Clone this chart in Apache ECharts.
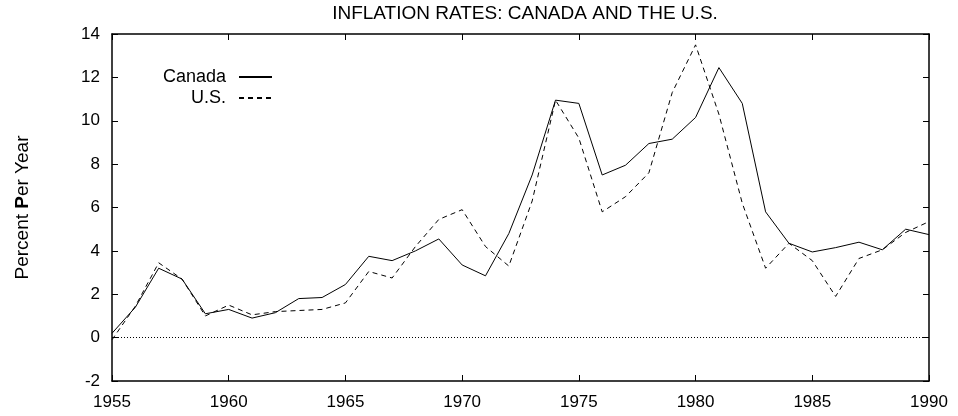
<!DOCTYPE html>
<html>
<head>
<meta charset="utf-8">
<script src="https://cdn.jsdelivr.net/npm/echarts@6/dist/echarts.min.js"></script>
<style>
html,body{margin:0;padding:0;background:#fff;}
#chart{width:958px;height:416px;}
</style>
</head>
<body>
<div id="chart"></div>
<script>
const years = [1955,1956,1957,1958,1959,1960,1961,1962,1963,1964,1965,1966,1967,1968,1969,1970,1971,1972,1973,1974,1975,1976,1977,1978,1979,1980,1981,1982,1983,1984,1985,1986,1987,1988,1989,1990];
const canada = [0.2,1.4,3.2,2.7,1.1,1.3,0.9,1.15,1.8,1.85,2.45,3.75,3.55,4.0,4.55,3.35,2.85,4.8,7.5,10.95,10.8,7.5,7.95,8.95,9.15,10.15,12.45,10.8,5.8,4.35,3.95,4.15,4.4,4.05,5.0,4.75];
const us = [-0.1,1.45,3.45,2.7,1.0,1.5,1.05,1.2,1.25,1.3,1.6,3.05,2.75,4.2,5.45,5.9,4.2,3.3,6.3,10.95,9.2,5.8,6.5,7.6,11.3,13.5,10.3,6.2,3.2,4.35,3.55,1.9,3.65,4.05,4.85,5.35];
const yTicks = {min: -2, max: 14, interval: 2};
const xTicks = {min: 1955, max: 1990, interval: 5};

const FONT = '"Liberation Sans", Arial, Helvetica, sans-serif';
const pair = (vals) => years.map((y, i) => [y, vals[i]]);

const chart = echarts.init(document.getElementById('chart'), null, {renderer: 'canvas'});
const axisCommon = {
  axisLine: {show: true, onZero: false, lineStyle: {color: '#000', width: 1.5}},
  axisTick: {show: true, inside: true, length: 6, lineStyle: {color: '#000', width: 1}},
  splitLine: {show: false}
};
const legendCommon = {
  orient: 'vertical', align: 'right', right: 680,
  itemWidth: 33, itemHeight: 14, itemGap: 8,
  itemStyle: {opacity: 0, color: 'rgba(0,0,0,0)', borderWidth: 0},
  textStyle: {fontFamily: FONT, fontSize: 18, color: '#000', padding: [0, 8, 0, 0]}
};
chart.setOption({
  animation: false,
  backgroundColor: '#fff',
  textStyle: {fontFamily: FONT},
  title: {
    text: 'INFLATION RATES: CANADA AND THE U.S.',
    left: 520, top: -1, textAlign: 'center',
    textStyle: {fontFamily: FONT, fontSize: 19, fontWeight: 'normal', color: '#000'}
  },
  grid: {left: 112, right: 29, top: 34, bottom: 35},
  legend: [
    Object.assign({data: ['Canada'], top: 63}, legendCommon),
    Object.assign({data: ['U.S.'], top: 84}, legendCommon)
  ],
  xAxis: [
    Object.assign({type: 'value', position: 'bottom', min: xTicks.min, max: xTicks.max, interval: xTicks.interval,
      axisLabel: {color: '#000', fontSize: 17, fontFamily: FONT, margin: 13, formatter: v => String(v)}}, axisCommon),
    Object.assign({type: 'value', position: 'top', min: xTicks.min, max: xTicks.max, interval: xTicks.interval,
      axisLabel: {show: false}}, axisCommon)
  ],
  yAxis: [
    Object.assign({type: 'value', position: 'left', min: yTicks.min, max: yTicks.max, interval: yTicks.interval,
      name: '{a|Percent }{b|P}{a|er Year}', nameLocation: 'middle', nameRotate: 90, nameGap: 80,
      nameTextStyle: {rich: {
        a: {fontFamily: FONT, fontSize: 19, color: '#000'},
        b: {fontFamily: FONT, fontSize: 19, color: '#000', fontWeight: 'bold'}
      }},
      axisLabel: {color: '#000', fontSize: 17, fontFamily: FONT, margin: 12}}, axisCommon),
    Object.assign({type: 'value', position: 'right', min: yTicks.min, max: yTicks.max, interval: yTicks.interval,
      axisLabel: {show: false}}, axisCommon)
  ],
  series: [
    {name: 'Canada', type: 'line', data: pair(canada), symbol: 'none', showSymbol: false,
     color: '#000', lineStyle: {color: '#000', width: 1, type: 'solid'},
     markLine: {silent: true, symbol: 'none', label: {show: false},
       lineStyle: {color: '#000', width: 1, type: [1, 2]},
       data: [{yAxis: 0}]}},
    {name: 'U.S.', type: 'line', data: pair(us), symbol: 'none', showSymbol: false,
     color: '#000', lineStyle: {color: '#000', width: 1, type: [5, 4]}}
  ]
});
</script>
</body>
</html>
